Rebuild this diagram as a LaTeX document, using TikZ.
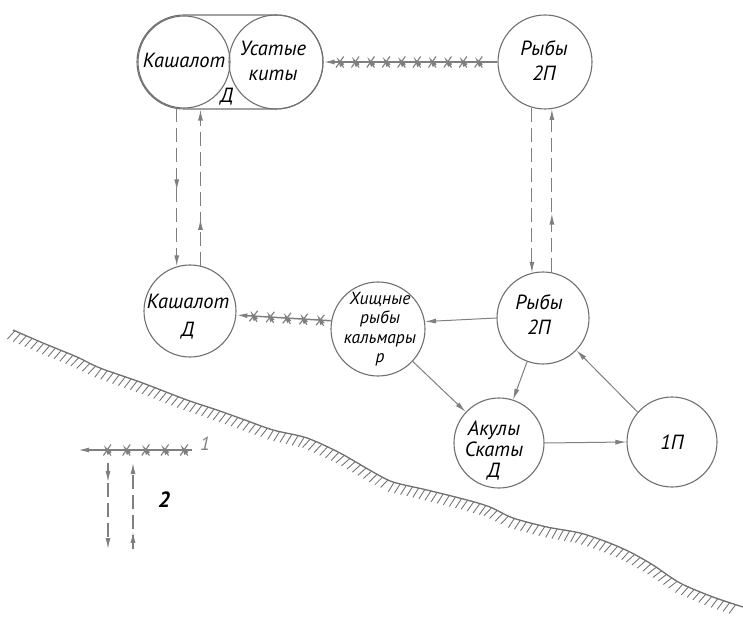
\documentclass[tikz,border=0pt]{standalone}
\usepackage{fontspec}
\setmainfont{PT Sans}
\usetikzlibrary{arrows.meta,decorations.markings,calc}
\definecolor{circ}{HTML}{707070}
\definecolor{con}{HTML}{7f7f7f}
\tikzset{
  circ/.style={circle, draw=circ, line width=1.1pt, minimum size=#1, inner sep=0pt},
  txt/.style={align=center, inner sep=0pt, font=\fontsize{20.5}{#1}\selectfont\itshape},
  tip/.style={-{Latex[length=11pt,width=5pt]}},
  thin/.style={draw=con, line width=1pt, tip},
  dashcon/.style={draw=con, line width=1.1pt, dash pattern=on 14pt off 6pt, tip},
  midarr/.style={postaction={decorate}, decoration={markings, mark=at position #1 with {\arrow[con]{Latex[length=11pt,width=5pt]}}}},
  crossed/.style n args={3}{draw=con, line width=1.5pt, tip, postaction={decorate},
    decoration={markings, mark=between positions #1 and #2 step #3 with {\draw[con, line width=1.15pt] (-3.8pt,-5.5pt)--(3.8pt,5.5pt) (-3.8pt,5.5pt)--(3.8pt,-5.5pt);}}},
  shoreline/.style={draw=circ, line width=1.3pt},
  shoreticks/.style={postaction={decorate},
    decoration={markings, mark=between positions 2pt and 780pt step 6.3pt with {\draw[circ, line width=0.85pt] (0,0)--(-3.5pt,-10.5pt);}}}
}
\begin{document}
\begin{tikzpicture}[x=1pt,y=-1pt]
\useasboundingbox (0,0) rectangle (743,617);
% circles
\node[draw=circ, line width=1.1pt, rounded corners=47pt, minimum width=186pt, minimum height=94pt, inner sep=0pt] (pair) at (230,62) {};
\node[circ=92pt] (kt) at (184,62) {};
\node[circ=94pt] (us) at (276,62) {};
\node[circ=94pt] (rt) at (545,62) {};
\node[circ=92pt] (km) at (190,311) {};
\node[circ=94pt] (hr) at (378,329) {};
\node[circ=92pt] (rm) at (543,318) {};
\node[circ=90pt] (ak) at (499,443) {};
\node[circ=90pt] (p1) at (672,442) {};
% texts
\node[txt=25pt] (ktt) at (184,60) {Кашалот};
\node[txt=25pt] (ust) at (273,61) {Усатые\\киты};
\node[txt=25pt] (dpair) at (227,97) {Д};
\node[txt=25pt] (rtt) at (544,61) {Рыбы\\2П};
\node[txt=28pt] (kmt) at (188,317) {Кашалот\\Д};
\node[align=center, inner sep=0pt, font=\fontsize{17.5}{19.5}\selectfont\itshape] (hrt) at (380,329) {Хищные\\рыбы\hspace*{22pt}\\кальмары\\р};
\node[txt=25pt] (rmt) at (539,315) {Рыбы\\2П};
\node[txt=21pt] (akt) at (494,451) {Акулы\\Скаты\\Д};
\node[txt=25pt] (p1t) at (672,442) {1П};
% crossed arrows
\draw[crossed={19pt}{160pt}{15.4pt}] (rt.west) -- (us.east);
\draw[crossed={11pt}{80pt}{16.7pt}] (hr.170) -- (km.-5);
% dashed pairs
\draw[dashcon, midarr=0.52] (kt.-99) -- (kt.-99 |- km.106);
\draw[dashcon, midarr=0.3] (km.77) -- (km.77 |- pair.south);
\draw[dashcon] (rt.-106) -- (rt.-106 |- rm.104);
\draw[dashcon, midarr=0.36] (rm.79) -- (rm.79 |- rt.-81);
% solid arrows
\draw[thin] (rm.west) -- (hr.9);
\draw[thin] (hr.-43) -- (ak.137);
\draw[thin] (rm.-110) -- (ak.72);
\draw[thin] (ak.east) -- (p1.west);
\draw[thin] (p1.139) -- (rm.-44);
% shore
\draw[shoreline] plot[smooth, tension=0.5] coordinates {(13,330) (43,343) (77,357) (100,368) (140,382) (187,400) (217,410) (245,420) (273,430) (307,438) (340,453) (373,472) (393,482) (427,490) (467,500) (490,507) (513,518) (547,527) (580,533) (607,542) (630,552) (653,565) (680,583) (713,597) (743,607)};
\path[shoreticks] (13,330) -- (43,343) -- (77,357) -- (100,368) -- (140,382) -- (187,400) -- (217,410) -- (245,420) -- (273,430) -- (307,438) -- (340,453) -- (373,472) -- (393,482) -- (427,490) -- (467,500) -- (490,507) -- (513,518) -- (547,527) -- (580,533) -- (607,542) -- (630,552) -- (653,565) -- (680,583) -- (713,597) -- (743,607);
% legend
\coordinate (l1s) at (192,450);
\coordinate (l1e) at (78,450);
\draw[crossed={8pt}{86pt}{19.2pt}] (l1s) -- (l1e);
\node[font=\fontsize{19}{20}\selectfont\itshape, text=con, inner sep=0pt] (lab1) at (205,444) {1};
\coordinate (l2s) at (108,463);
\coordinate (l2e) at (108,549);
\draw[dashcon, midarr=0.22] (l2s) -- (l2e);
\coordinate (l3s) at (133,549);
\coordinate (l3e) at (133,463);
\draw[dashcon, midarr=0.2] (l3s) -- (l3e);
\node[font=\fontsize{22}{24}\selectfont\bfseries\itshape, inner sep=0pt] (lab2) at (164,500) {2};
\end{tikzpicture}
\end{document}
